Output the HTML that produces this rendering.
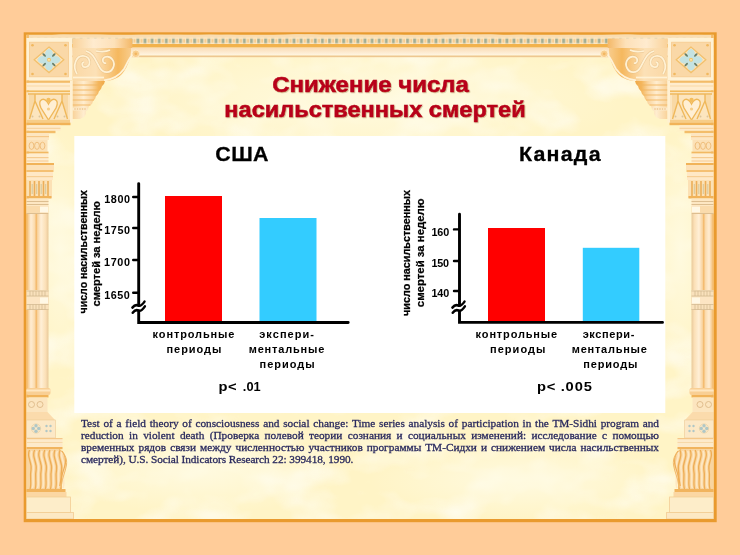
<!DOCTYPE html>
<html><head><meta charset="utf-8">
<style>
html,body{margin:0;padding:0;}
body{width:740px;height:555px;overflow:hidden;background:#FFCC99;position:relative;font-family:"Liberation Sans",sans-serif;}
svg{position:absolute;left:0;top:0;}
.rl{position:absolute;left:81px;width:578px;white-space:nowrap;font-family:"Liberation Serif",serif;font-size:11.3px;line-height:12px;color:#2A2A5E;-webkit-text-stroke:0.3px #2A2A5E;will-change:transform;}
.j{text-align:justify;text-align-last:justify;white-space:normal;}
</style></head>
<body>
<svg width="740" height="555" viewBox="0 0 740 555">
  <defs>
    <radialGradient id="glowA" cx="0.5" cy="0.5" r="0.5">
      <stop offset="0" stop-color="#FFFBE4" stop-opacity="0.85"/>
      <stop offset="1" stop-color="#FFFBE4" stop-opacity="0"/>
    </radialGradient>
    <radialGradient id="glowB" cx="0.5" cy="0.5" r="0.5">
      <stop offset="0" stop-color="#FFEBB0" stop-opacity="0.7"/>
      <stop offset="1" stop-color="#FFEBB0" stop-opacity="0"/>
    </radialGradient>
    <linearGradient id="friezeG" x1="0" y1="0" x2="0" y2="1">
      <stop offset="0" stop-color="#FADBB5"/>
      <stop offset="1" stop-color="#FFF6E3"/>
    </linearGradient>
    <pattern id="teal" x="1.5" y="37.8" width="7.096" height="6" patternUnits="userSpaceOnUse">
      <rect width="7.1" height="6" fill="#FCE6C0"/>
      <rect x="0.2" y="0.8" width="2.8" height="4.6" fill="#A2AE94"/>
      <rect x="4.2" y="1.2" width="2" height="3.6" fill="#F6CC90"/>
    </pattern>
    <linearGradient id="topband" x1="0" y1="0" x2="1" y2="0">
      <stop offset="0" stop-color="#F8CC94"/>
      <stop offset="0.35" stop-color="#FFE9D2"/>
      <stop offset="0.7" stop-color="#FDDDB8"/>
      <stop offset="1" stop-color="#F2AE5A"/>
    </linearGradient>
    <linearGradient id="scrollG" x1="0" y1="0" x2="1" y2="0">
      <stop offset="0" stop-color="#F9D3A2"/>
      <stop offset="0.4" stop-color="#FCDDB6"/>
      <stop offset="0.78" stop-color="#F4AE50"/>
      <stop offset="1" stop-color="#F7C584"/>
    </linearGradient>
    <linearGradient id="corbelG" x1="72" y1="0" x2="105" y2="0" gradientUnits="userSpaceOnUse">
      <stop offset="0" stop-color="#F7CB92"/>
      <stop offset="0.35" stop-color="#FFEBD2"/>
      <stop offset="0.6" stop-color="#FAD09C"/>
      <stop offset="0.8" stop-color="#F2AC4E"/>
      <stop offset="1" stop-color="#EE9C36"/>
    </linearGradient>
    <linearGradient id="shaftG" x1="0" y1="0" x2="1" y2="0">
      <stop offset="0" stop-color="#F0A548"/>
      <stop offset="0.07" stop-color="#F6C386"/>
      <stop offset="0.2" stop-color="#FFEBD6"/>
      <stop offset="0.36" stop-color="#FBD8AE"/>
      <stop offset="0.45" stop-color="#F1B060"/>
      <stop offset="0.5" stop-color="#F7CC98"/>
      <stop offset="0.66" stop-color="#FFEEDC"/>
      <stop offset="0.86" stop-color="#FBDDB8"/>
      <stop offset="1" stop-color="#E6C296"/>
    </linearGradient>
    <linearGradient id="vaseG" x1="0" y1="0" x2="1" y2="0">
      <stop offset="0" stop-color="#F6C07A"/>
      <stop offset="1" stop-color="#FBD8AA"/>
    </linearGradient>
    <filter id="clouds" x="0" y="0" width="100%" height="100%">
      <feTurbulence type="fractalNoise" baseFrequency="0.018 0.03" numOctaves="3" seed="7" result="n"/>
      <feColorMatrix in="n" type="matrix" values="0 0 0 0 1  0 0 0 0 0.99  0 0 0 0 0.92  0 0 0 2.2 -0.95"/>
    </filter>
    <filter id="lift" x="0" y="0" width="100%" height="100%" color-interpolation-filters="sRGB">
      <feColorMatrix type="matrix" values="0.87 0 0 0 0.13  0 0.87 0 0 0.127  0 0 0.87 0 0.095  0 0 0 1 0"/>
    </filter>
  </defs>
  <!-- outer frame -->
  <rect x="23.7" y="32.3" width="693" height="489.9" fill="#E99A2E"/>
  <rect x="26.3" y="34.8" width="687.5" height="484.2" fill="#FFF4C6"/>
  <!-- soft clouds -->
  <rect x="26.3" y="34.8" width="687.5" height="484.2" filter="url(#clouds)" opacity="0.8"/>
  <ellipse cx="370" cy="100" rx="260" ry="60" fill="url(#glowA)"/>
  <ellipse cx="200" cy="470" rx="140" ry="45" fill="url(#glowA)"/>
  <ellipse cx="520" cy="480" rx="150" ry="40" fill="url(#glowA)"/>
  <ellipse cx="60" cy="250" rx="30" ry="120" fill="url(#glowA)"/>
  <ellipse cx="680" cy="250" rx="30" ry="120" fill="url(#glowA)"/>
  <!-- frieze -->
  <rect x="26.5" y="35" width="687" height="2.8" fill="#FADDB2"/>
  <rect x="26.5" y="37.8" width="687" height="6.2" fill="url(#teal)"/>
  <rect x="26.5" y="44" width="687" height="3.6" fill="#F2B24C"/>
  <rect x="26.5" y="47.6" width="687" height="7.9" fill="url(#friezeG)"/>
  <rect x="26.5" y="55.5" width="687" height="1.7" fill="#EEC790"/>

  <g filter="url(#lift)">
  <g id="L">
    <!-- pillar base strip bg -->
    <rect x="26.3" y="35" width="2.6" height="484" fill="#F3B25E"/>
    <!-- corner tile -->
    <rect x="26.5" y="38" width="45.5" height="42.5" fill="#FFF1DA"/>
    <rect x="29.4" y="42.2" width="39" height="34.6" fill="#F9D3A4" stroke="#F6C488" stroke-width="0.8"/>
    <path d="M49 47 L63.8 59.8 L49 72.6 L34.2 59.8 Z" fill="#FDE2BE" stroke="#F0B860" stroke-width="1.3"/>
    <path d="M49 49.6 L60.8 59.8 L49 70 L37.2 59.8 Z" fill="#FCE9CC" stroke="#F6CB8E" stroke-width="0.6"/>
    <g fill="#BCE0E8">
      <ellipse cx="49" cy="54.3" rx="3.9" ry="5.2"/>
      <ellipse cx="49" cy="65.3" rx="3.9" ry="5.2"/>
      <ellipse cx="43.2" cy="59.8" rx="5.4" ry="3.9"/>
      <ellipse cx="54.8" cy="59.8" rx="5.4" ry="3.9"/>
      <path d="M49 52 L56.5 59.8 L49 67.6 L41.5 59.8 Z"/>
    </g>
    <g fill="#4F6B5C">
      <ellipse cx="44.2" cy="55" rx="2.3" ry="1" transform="rotate(45 44.2 55)"/>
      <ellipse cx="53.8" cy="55" rx="2.3" ry="1" transform="rotate(-45 53.8 55)"/>
      <ellipse cx="44.2" cy="64.6" rx="2.3" ry="1" transform="rotate(-45 44.2 64.6)"/>
      <ellipse cx="53.8" cy="64.6" rx="2.3" ry="1" transform="rotate(45 53.8 64.6)"/>
    </g>
    <circle cx="49" cy="59.8" r="2" fill="#F2BC5C"/>
    <circle cx="49" cy="59.8" r="0.9" fill="#FFEFC0"/>
    <g fill="#EFAE50">
      <circle cx="32.5" cy="45.2" r="1.3"/><circle cx="65.5" cy="45.2" r="1.3"/>
      <circle cx="32.5" cy="74" r="1.3"/><circle cx="65.5" cy="74" r="1.3"/>
    </g>
    <!-- bands under tile -->
    <rect x="26.5" y="80.6" width="45.5" height="2.3" fill="#F1B25C"/>
    <rect x="26.5" y="82.9" width="45.5" height="7.5" fill="#FFEAD0"/>
    <rect x="26.5" y="85.5" width="45.5" height="1" fill="#F7D3A2"/>
    <rect x="26.5" y="90.4" width="45.5" height="1.8" fill="#F0B050"/>
    <!-- heart panel -->
    <rect x="26.5" y="92.2" width="44" height="30.5" fill="#FCE2BE"/>
    <path d="M29 95 L35 95 L35 101 L29 119 Z" fill="#F8D4A2"/>
    <path d="M68 95 L62 95 L62 101 L68 119 Z" fill="#F8D4A2"/>
    <path d="M48.5 104 C44.5 95.5, 37 99.5, 41 108 L48.5 120 L56 108 C60 99.5, 52.5 95.5, 48.5 104 Z" fill="#FFEED8"/>
    <g fill="none" stroke="#EDAE4C" stroke-width="1.4">
      <path d="M35 94 V101 L29.5 119 M35 101 L43 119"/>
      <path d="M62 94 V101 L67.5 119 M62 101 L54 119"/>
      <path d="M48.5 104 C44.5 95.5, 37 99.5, 41 108 L48.5 120 L56 108 C60 99.5, 52.5 95.5, 48.5 104 Z"/>
      <path d="M28 94 H70"/>
    </g>
    <circle cx="48.5" cy="100" r="2.2" fill="#F2B550"/>
    <circle cx="48.5" cy="109" r="1.6" fill="#F6C77E"/>
    <g fill="#D6BC98"><circle cx="32.5" cy="116.5" r="1"/><circle cx="39.5" cy="116.5" r="1"/><circle cx="57.5" cy="116.5" r="1"/><circle cx="64.5" cy="116.5" r="1"/></g>
    <rect x="26.5" y="119.8" width="44" height="3" fill="#F6C681"/>
    <!-- bands below heart panel -->
    <rect x="26.5" y="122.7" width="44" height="2.5" fill="#EFA849"/>
    <rect x="26.5" y="125.2" width="34" height="5.6" fill="#FFE8CB"/>
    <rect x="26.5" y="127.8" width="34" height="1" fill="#F6C992"/>
    <rect x="26.5" y="130.8" width="29" height="2.4" fill="#F1B45E"/>
    <rect x="26.5" y="133" width="22.5" height="7" fill="#FDE3C2"/>
    <rect x="26.5" y="136" width="22.5" height="1.2" fill="#F4C080"/>
    <!-- bead row -->
    <rect x="26.5" y="140" width="21" height="11.6" fill="#FBDDB6"/>
    <g fill="none" stroke="#EBB16C" stroke-width="0.9">
      <ellipse cx="31.5" cy="145.8" rx="2.4" ry="3.6"/><ellipse cx="37" cy="145.8" rx="2.4" ry="3.6"/><ellipse cx="42.5" cy="145.8" rx="2.4" ry="3.6"/>
    </g>
    <rect x="26.5" y="151.6" width="22" height="2" fill="#F0AE55"/>
    <rect x="26.5" y="153.6" width="22" height="9.4" fill="#FFEBD2"/>
    <rect x="26.5" y="157" width="22" height="1.2" fill="#F5C488"/>
    <rect x="26.5" y="160.5" width="22" height="1" fill="#F5C488"/>
    <rect x="26.5" y="163" width="27.5" height="2" fill="#EFA84A"/>
    <rect x="26.5" y="165" width="27.5" height="5" fill="#FDDDB6"/>
    <rect x="26.5" y="170" width="27" height="2" fill="#F3B868"/>
    <rect x="26.5" y="172" width="26.5" height="8" fill="#FFE6C8"/>
    <rect x="26.5" y="176" width="26.5" height="1.2" fill="#F6C88E"/>
    <!-- fluted capital -->
    <rect x="26.5" y="180" width="25.5" height="18" fill="#FBDDB4"/>
    <g stroke="#E9A34A" stroke-width="1.6" fill="none">
      <path d="M30 181 V196 M34.5 181 V196 M39 181 V196 M43.5 181 V196 M48 181 V196"/>
    </g>
    <g stroke="#A9A77E" stroke-width="0.8" fill="none" opacity="0.7">
      <path d="M32.2 184 V194 M36.7 184 V194 M41.2 184 V194 M45.7 184 V194"/>
    </g>
    <rect x="26.5" y="196" width="25" height="2.5" fill="#EFA84C"/>
    <rect x="26.5" y="198.5" width="22" height="7.5" fill="#FDE4C4"/>
    <rect x="26.5" y="201" width="22" height="1" fill="#D8B58A"/>
    <rect x="26.5" y="204" width="22" height="1" fill="#D8B58A"/>
    <rect x="26.5" y="206" width="22" height="7" fill="#F9D7AA"/>
    <rect x="40" y="206.5" width="8" height="6" fill="#FFF8EC"/>
    <rect x="26.5" y="213" width="22" height="1" fill="#D8B58A"/>
    <!-- shaft -->
    <rect x="26.5" y="214" width="22" height="176" fill="url(#shaftG)"/>
    <!-- shaft band -->
    <rect x="26.5" y="290" width="22" height="7" fill="#F8DDBC"/>
    <g stroke="#C9AE88" stroke-width="0.7"><path d="M26.5 291 H48.5 M26.5 296 H48.5 M30 291 V296 M33 291 V296 M36 291 V296 M39 291 V296 M42 291 V296 M45 291 V296"/></g>
    <rect x="26.5" y="297" width="22" height="7" fill="#FBE2C4"/>
    <rect x="40" y="297.5" width="8" height="6" fill="#FFF8EC"/>
    <rect x="26.5" y="304" width="22" height="6" fill="#F8DDBC"/>
    <g stroke="#C9AE88" stroke-width="0.7"><path d="M26.5 304.5 H48.5 M26.5 309.5 H48.5 M30 304.5 V309.5 M33 304.5 V309.5 M36 304.5 V309.5 M39 304.5 V309.5 M42 304.5 V309.5 M45 304.5 V309.5"/></g>
    <!-- base -->
    <rect x="26.5" y="388" width="24" height="7" rx="2" fill="#F8C98E"/>
    <rect x="26.5" y="389.5" width="24" height="2" fill="#FFE4C2"/>
    <rect x="26.5" y="395" width="22" height="2.5" fill="#EFA84C"/>
    <rect x="26.5" y="397.5" width="21" height="14.5" fill="#FCE2C0"/>
    <g fill="none" stroke="#D8B080" stroke-width="0.9"><circle cx="31.5" cy="404.5" r="3"/><circle cx="40" cy="404.5" r="3"/></g>
    <path d="M26.5 412 H47.5 L55 420 H26.5 Z" fill="#FAD7AA"/>
    <rect x="26.5" y="420" width="29" height="18" fill="#FCE6C8" stroke="#ECC290" stroke-width="0.6"/>
    <circle cx="36" cy="428.5" r="4.6" fill="none" stroke="#E2C79E" stroke-width="0.7"/><g fill="#A3BFC8"><circle cx="36" cy="425.8" r="1.7"/><circle cx="36" cy="431.2" r="1.7"/><circle cx="33.3" cy="428.5" r="1.7"/><circle cx="38.7" cy="428.5" r="1.7"/>
      <circle cx="46.5" cy="426" r="1.2"/><circle cx="50.5" cy="426" r="1.2"/><circle cx="46.5" cy="431" r="1.2"/><circle cx="50.5" cy="431" r="1.2"/></g>
    <rect x="26.5" y="438" width="36" height="11" fill="#FDE8CC"/>
    <rect x="26.5" y="438" width="36" height="1.2" fill="#F3C080"/>
    <rect x="26.5" y="442" width="36" height="1" fill="#F6D3A4"/>
    <rect x="26.5" y="447" width="36" height="2.2" fill="#EFAA50"/>
    <!-- fluted vase -->
    <path d="M26.5 449 H58.6 C64 452, 67.5 458, 66.5 465 C65.5 472, 62 478, 61.5 485 L61.5 490 H26.5 Z" fill="#F8D09C"/>
    <path d="M31.9 451 C28.4 457, 34.9 462, 33.4 470 C31.9 477, 34.4 484, 32.4 488 M37.0 451 C33.5 457, 40.0 462, 38.5 470 C37.0 477, 39.5 484, 37.5 488 M42.1 451 C38.6 457, 45.1 462, 43.6 470 C42.1 477, 44.6 484, 42.6 488 M47.2 451 C43.7 457, 50.2 462, 48.7 470 C47.2 477, 49.7 484, 47.7 488 M52.3 451 C48.8 457, 55.3 462, 53.8 470 C52.3 477, 54.8 484, 52.8 488 M57.4 451 C53.9 457, 60.4 462, 58.9 470 C57.4 477, 59.9 484, 57.9 488 M62.5 451 C59.0 457, 65.5 462, 64.0 470 C62.5 477, 65.0 484, 63.0 488" fill="none" stroke="#FEE6C6" stroke-width="1.6"/>
    <path d="M29.5 450 C26.0 457, 32.5 462, 31.0 470 C29.5 477, 32.0 484, 30.0 489 M34.6 450 C31.1 457, 37.6 462, 36.1 470 C34.6 477, 37.1 484, 35.1 489 M39.7 450 C36.2 457, 42.7 462, 41.2 470 C39.7 477, 42.2 484, 40.2 489 M44.8 450 C41.3 457, 47.8 462, 46.3 470 C44.8 477, 47.3 484, 45.3 489 M49.9 450 C46.4 457, 52.9 462, 51.4 470 C49.9 477, 52.4 484, 50.4 489 M55.0 450 C51.5 457, 58.0 462, 56.5 470 C55.0 477, 57.5 484, 55.5 489 M60.1 450 C56.6 457, 63.1 462, 61.6 470 C60.1 477, 62.6 484, 60.6 489" fill="none" stroke="#ECA246" stroke-width="1.3"/>
    <path d="M62 451 C66 456, 66.5 461, 64.5 467 C62.5 473, 60.5 479, 59.8 486" fill="none" stroke="#ECA246" stroke-width="1.2"/>
    <path d="M58.6 449 C64 452, 67.5 458, 66.5 465 C65.5 472, 62 478, 61.5 485 L61.5 490" fill="none" stroke="#EFB060" stroke-width="1"/>
    <rect x="26.5" y="489" width="39" height="3" fill="#EFAA50"/>
    <rect x="26.5" y="492" width="40" height="5" fill="#FAD2A0"/>
    <rect x="26.5" y="497" width="44" height="15.5" fill="#FDEBCB" stroke="#F1C890" stroke-width="0.8"/>
    <rect x="26.5" y="512.5" width="47" height="6.5" fill="#FCE6C4" stroke="#F0C58C" stroke-width="0.8"/>
    <!-- bracket top band -->
    <rect x="72.4" y="38.5" width="60" height="9.5" rx="1" fill="url(#topband)"/>
    <!-- scroll block -->
    <path d="M72.4 48 H131 C131.5 56, 128.5 66, 122 74 C117 79, 111 80.5, 105 81 L72.4 81 Z" fill="url(#scrollG)"/>
    <g fill="none" stroke="#D8AE78" stroke-width="3" opacity="0.45">
      <path d="M77 74 C72 66, 76 55, 84 56 C91 57, 91 66, 86 67 C82 68, 81 63, 84 62"/>
      <path d="M86 51 C94 53, 96 62, 100 68 C103 73, 110 74, 113 68 C116 62, 111 55, 105 57 C101 59, 103 64, 106 63"/>
      <path d="M96 51 C102 52, 106 52, 110 50"/>
    </g>
    <g fill="none" stroke="#FFF0D8" stroke-width="1.7">
      <path d="M77 74 C72 66, 76 55, 84 56 C91 57, 91 66, 86 67 C82 68, 81 63, 84 62"/>
      <path d="M86 51 C94 53, 96 62, 100 68 C103 73, 110 74, 113 68 C116 62, 111 55, 105 57 C101 59, 103 64, 106 63"/>
      <path d="M96 51 C102 52, 106 52, 110 50"/>
      <path d="M73 77.5 H104"/>
    </g>
    <path d="M104 80.5 C112 79.5, 119 76, 124 69 C127.5 63, 129.5 57, 133 54.5" fill="none" stroke="#FFF1DA" stroke-width="1.8"/>
    <circle cx="135.8" cy="53.8" r="3.8" fill="#F8C786" stroke="#FFE9C8" stroke-width="1"/>
    <circle cx="135.8" cy="53.8" r="1.4" fill="#F0AD55"/>
    <!-- corbel -->
    <path d="M72.4 81 H105 L104 84 L102 86 L101 89 L99 91 L98 94 L96 96 L95 99 L93 101 L92 104 L89 106 L88 109 L86 111 L86 114 L84 117 L80 119 L72.4 119 Z" fill="url(#corbelG)"/>
    <g stroke="#EFAA52" stroke-width="0.9">
      <path d="M72.4 85 H102.5 M72.4 90 H100 M72.4 95 H96.5 M72.4 100 H94 M72.4 105 H90.5"/>
    </g>
    <rect x="72.4" y="107.5" width="15" height="3" fill="#FCE7CC"/>
    <g fill="#E9B77A"><circle cx="75" cy="109" r="0.8"/><circle cx="77.5" cy="109" r="0.8"/><circle cx="80" cy="109" r="0.8"/><circle cx="82.5" cy="109" r="0.8"/><circle cx="85" cy="109" r="0.8"/></g>
    <!-- right edge strip of pillar next to corbel -->
    <rect x="70" y="80.5" width="2.6" height="42" fill="#FFEFD6"/>
  </g>
  <use href="#L" transform="translate(740,0) scale(-1,1)"/>
  </g>
  <!-- white panel -->
  <rect x="74.3" y="136" width="591" height="277" fill="#FFFFFF"/>

</svg>
<svg width="740" height="555" viewBox="0 0 740 555">
  <g>
  <rect x="165" y="196" width="57" height="126" fill="#FF0000"/>
  <rect x="259.5" y="218" width="57" height="104" fill="#33CCFF"/>
  <rect x="488" y="228" width="57" height="94" fill="#FF0000"/>
  <rect x="582.8" y="247.8" width="56.5" height="74" fill="#33CCFF"/>
  </g>
  <g stroke="#000" fill="none" stroke-linecap="round">
    <path d="M138.7 183.6 V322.5 H348.2" stroke-width="2.9" stroke-linejoin="miter"/>
    <path d="M133.2 197 H138 M133.2 228 H138 M133.2 260 H138 M133.2 292.8 H138" stroke-width="2.4"/>
    <path d="M459.5 214.3 V322.4 H662.5" stroke-width="2.9" stroke-linejoin="miter"/>
    <path d="M454 229.4 H459 M454 261 H459 M454 291 H459" stroke-width="2.4"/>
  </g>
  <g stroke="#fff" fill="none" stroke-width="2.8" stroke-linecap="butt">
    <path d="M133.5 309.9 C135 307.6, 136.8 307.1, 138.4 308.1 C140.1 309, 142.1 307.5, 143.8 305"/>
    <path d="M453.5 309.9 C455 307.6, 456.8 307.1, 458.4 308.1 C460.1 309, 462.1 307.5, 463.8 305"/>
  </g>
  <g stroke="#000" fill="none" stroke-width="2.5" stroke-linecap="round">
    <path d="M132.4 307.6 C134.3 305.2, 136.4 304.6, 138.3 305.6 C140.1 306.5, 142.1 305, 144.5 301.6"/>
    <path d="M132.7 312.7 C134.6 310.3, 136.7 309.6, 138.6 310.6 C140.4 311.5, 142.4 310, 144.9 306.4"/>
    <path d="M452.4 307.6 C454.3 305.2, 456.4 304.6, 458.3 305.6 C460.1 306.5, 462.1 305, 464.5 301.6"/>
    <path d="M452.7 312.7 C454.6 310.3, 456.7 309.6, 458.6 310.6 C460.4 311.5, 462.4 310, 464.9 306.4"/>
  </g>
</svg>
<svg width="740" height="555" viewBox="0 0 740 555" style="font-family:'Liberation Sans',sans-serif;will-change:transform">
<defs><filter id="tsh" x="-5%" y="-20%" width="110%" height="150%"><feDropShadow dx="0.8" dy="0.8" stdDeviation="0.6" flood-color="#603000" flood-opacity="0.32"/></filter></defs>
<text x="272.24" y="92" font-size="22.3" font-weight="bold" fill="#B8061A" stroke="#B8061A" stroke-width="0.55" textLength="196.68" lengthAdjust="spacingAndGlyphs" filter="url(#tsh)">Снижение числа</text>
<text x="224.35" y="117" font-size="22.3" font-weight="bold" fill="#B8061A" stroke="#B8061A" stroke-width="0.55" textLength="301.32" lengthAdjust="spacingAndGlyphs" filter="url(#tsh)">насильственных смертей</text>
<text transform="scale(1.02,1)" x="211.12" y="161" font-size="21" font-weight="bold" fill="#000" letter-spacing="0.353" stroke="#000" stroke-width="0.3">США</text>
<text transform="scale(1.02,1)" x="508.82" y="161.4" font-size="21" font-weight="bold" fill="#000" letter-spacing="1.171" stroke="#000" stroke-width="0.3">Канада</text>
<text transform="scale(1.0,1)" x="104.25" y="203.4" font-size="10.8" font-weight="bold" fill="#000" letter-spacing="0.568">1800</text>
<text transform="scale(1.0,1)" x="104.25" y="234.2" font-size="10.8" font-weight="bold" fill="#000" letter-spacing="0.568">1750</text>
<text transform="scale(1.0,1)" x="104.10" y="266.3" font-size="10.8" font-weight="bold" fill="#000" letter-spacing="0.618">1700</text>
<text transform="scale(1.0,1)" x="104.35" y="298.7" font-size="10.8" font-weight="bold" fill="#000" letter-spacing="0.435">1650</text>
<text transform="scale(1.0,1)" x="431.55" y="235.6" font-size="10.8" font-weight="bold" fill="#000" letter-spacing="-0.178">160</text>
<text transform="scale(1.0,1)" x="431.55" y="266.8" font-size="10.8" font-weight="bold" fill="#000" letter-spacing="-0.328">150</text>
<text transform="scale(1.0,1)" x="431.55" y="296.7" font-size="10.8" font-weight="bold" fill="#000" letter-spacing="-0.178">140</text>
<text transform="scale(1.1,1)" x="138.75" y="337.8" font-size="10" font-weight="bold" fill="#000" letter-spacing="0.795">контрольные</text>
<text transform="scale(1.1,1)" x="151.39" y="352.6" font-size="10" font-weight="bold" fill="#000" letter-spacing="0.874">периоды</text>
<text transform="scale(1.1,1)" x="235.70" y="337.6" font-size="10" font-weight="bold" fill="#000" letter-spacing="0.942">экспери-</text>
<text transform="scale(1.1,1)" x="226.12" y="352.6" font-size="10" font-weight="bold" fill="#000" letter-spacing="0.736">ментальные</text>
<text transform="scale(1.1,1)" x="235.94" y="367.8" font-size="10" font-weight="bold" fill="#000" letter-spacing="0.920">периоды</text>
<text transform="scale(1.1,1)" x="432.39" y="337.8" font-size="10" font-weight="bold" fill="#000" letter-spacing="0.768">контрольные</text>
<text transform="scale(1.1,1)" x="445.39" y="352.6" font-size="10" font-weight="bold" fill="#000" letter-spacing="0.965">периоды</text>
<text transform="scale(1.1,1)" x="529.70" y="337.6" font-size="10" font-weight="bold" fill="#000" letter-spacing="0.552">экспери-</text>
<text transform="scale(1.1,1)" x="519.85" y="352.6" font-size="10" font-weight="bold" fill="#000" letter-spacing="0.686">ментальные</text>
<text transform="scale(1.1,1)" x="530.21" y="367.8" font-size="10" font-weight="bold" fill="#000" letter-spacing="0.753">периоды</text>
<text transform="scale(1.15,1)" x="190.06" y="391.1" font-size="12.8" font-weight="bold" fill="#000" letter-spacing="0.437">p<</text>
<text transform="scale(1.0,1)" x="242.80" y="391.1" font-size="12.8" font-weight="bold" fill="#000" letter-spacing="0.044">.01</text>
<text transform="scale(1.15,1)" x="466.93" y="390.9" font-size="12.8" font-weight="bold" fill="#000" letter-spacing="0.785">p<</text>
<text transform="scale(1.15,1)" x="487.54" y="390.9" font-size="12.8" font-weight="bold" fill="#000" letter-spacing="0.744">.005</text>
<text transform="translate(86.6,313.42) rotate(-90)" x="0" y="0" font-size="10.8" font-weight="bold" fill="#000" stroke="#000" stroke-width="0.25" textLength="123.38" lengthAdjust="spacingAndGlyphs">число насильственных</text>
<text transform="translate(99.8,306.44) rotate(-90)" x="0" y="0" font-size="10.8" font-weight="bold" fill="#000" stroke="#000" stroke-width="0.25" textLength="105.44" lengthAdjust="spacingAndGlyphs">смертей за неделю</text>
<text transform="translate(409.9,315.93) rotate(-90)" x="0" y="0" font-size="10.8" font-weight="bold" fill="#000" stroke="#000" stroke-width="0.25" textLength="125.89" lengthAdjust="spacingAndGlyphs">число насильственных</text>
<text transform="translate(423.5,307.16) rotate(-90)" x="0" y="0" font-size="10.8" font-weight="bold" fill="#000" stroke="#000" stroke-width="0.25" textLength="108.67" lengthAdjust="spacingAndGlyphs">смертей за неделю</text>
</svg>
<div class="rl j" style="top:416.79px">Test of a field theory of consciousness and social change: Time series analysis of participation in the TM-Sidhi program and</div>
<div class="rl j" style="top:428.99px">reduction in violent death (Проверка полевой теории сознания и социальных изменений: исследование с помощью</div>
<div class="rl j" style="top:441.19px">временных рядов связи между численностью участников программы ТМ-Сидхи и снижением числа насильственных</div>
<div class="rl" style="top:453.19px;letter-spacing:-0.07px">смертей), U.S. Social Indicators Research 22: 399418, 1990.</div>
</body></html>
